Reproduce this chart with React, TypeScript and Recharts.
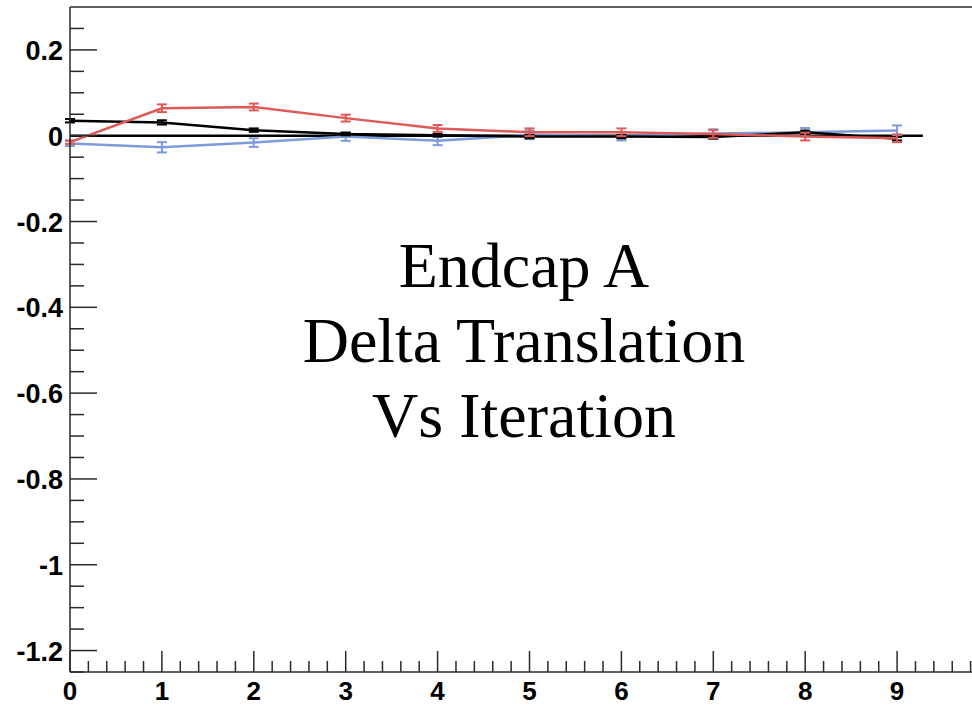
import { LineChart, Line, XAxis, YAxis, ErrorBar, ReferenceLine } from "recharts";

// iteration number on the x axis
const iterations = [0, 1, 2, 3, 4, 5, 6, 7, 8, 9];

// per-iteration translation deltas, three series
const blackDelta = [0.035, 0.031, 0.013, 0.004, 0.001, -0.002, -0.002, -0.003, 0.008, -0.007];
const blackErr = [0.004, 0.005, 0.004, 0.003, 0.003, 0.004, 0.004, 0.004, 0.004, 0.004];
const redDelta = [-0.015, 0.064, 0.067, 0.041, 0.017, 0.008, 0.008, 0.004, -0.002, -0.006];
const redErr = [0.004, 0.009, 0.008, 0.008, 0.008, 0.009, 0.009, 0.009, 0.009, 0.009];
const blueDelta = [-0.018, -0.027, -0.016, -0.002, -0.012, 0.002, -0.001, 0.005, 0.008, 0.012];
const blueErr = [0.006, 0.012, 0.01, 0.01, 0.01, 0.01, 0.01, 0.01, 0.01, 0.012];

const xMajor = [0, 1, 2, 3, 4, 5, 6, 7, 8, 9];
const yMajor = [-1.2, -1, -0.8, -0.6, -0.4, -0.2, 0, 0.2];
const titleLines = ["Endcap A", "Delta Translation", "Vs Iteration"];

const X_MAX = 9.815;
const Y_MIN = -1.25;
const Y_MAX = 0.3;

// minor ticks: 5 divisions on x, 4 on y
const xTicks: number[] = [];
for (let i = 0; i <= 49; i++) xTicks.push(Math.round(i * 20) / 100);
const yTicks: number[] = [];
for (let i = 0; i <= 30; i++) yTicks.push(Math.round((Y_MIN + i * 0.05) * 100) / 100);

const data = iterations.map((it, i) => ({
  iteration: it,
  black: blackDelta[i],
  blackErr: blackErr[i],
  red: redDelta[i],
  redErr: redErr[i],
  blue: blueDelta[i],
  blueErr: blueErr[i],
}));

const RED = "#dc5a58";
const BLUE = "#7d9bdb";
const AXIS = "#2a2a2a";
const FONT = "'Liberation Sans', Arial, sans-serif";

const isMajor = (v: number, list: number[]) => list.some((m) => Math.abs(m - v) < 1e-6);

const fmt = (v: number) => {
  if (Math.abs(v) < 1e-9) return "0";
  return String(Math.round(v * 10) / 10);
};

function XTick({ x, y, payload }: any) {
  const major = isMajor(payload.value, xMajor);
  return (
    <g>
      <line x1={x} x2={x} y1={y} y2={y - (major ? 21 : 11)} stroke={AXIS} strokeWidth={1.5} />
      {major && (
        <text x={x} y={y + 28} textAnchor="middle" fontFamily={FONT} fontWeight="bold" fontSize={26} fill="#000">
          {payload.value}
        </text>
      )}
    </g>
  );
}

function YTick({ x, y, payload }: any) {
  const major = isMajor(payload.value, yMajor);
  return (
    <g>
      <line x1={x} x2={x + (major ? 27 : 14)} y1={y} y2={y} stroke={AXIS} strokeWidth={1.5} />
      {major && (
        <text x={x - 7} y={y + 10} textAnchor="end" fontFamily={FONT} fontWeight="bold" fontSize={27} fill="#000">
          {fmt(payload.value)}
        </text>
      )}
    </g>
  );
}

export default function App() {
  return (
    <div style={{ position: "absolute", left: 0, top: 0, width: 972, height: 706, background: "#fff", overflow: "hidden" }}>
      <LineChart width={972} height={706} data={data} margin={{ top: 7, right: 0, left: 0, bottom: 0 }}>
        <XAxis
          type="number"
          dataKey="iteration"
          domain={[0, X_MAX]}
          ticks={xTicks}
          interval={0}
          tickSize={0}
          tickMargin={0}
          height={34}
          allowDataOverflow
          stroke={AXIS}
          strokeWidth={1.5}
          tick={<XTick />}
        />
        <YAxis
          type="number"
          domain={[Y_MIN, Y_MAX]}
          ticks={yTicks}
          interval={0}
          tickSize={0}
          tickMargin={0}
          width={70}
          allowDataOverflow
          stroke={AXIS}
          strokeWidth={1.5}
          tick={<YTick />}
        />
        <ReferenceLine y={Y_MAX} stroke={AXIS} strokeWidth={1.5} />
        <ReferenceLine
          segment={[
            { x: 0, y: 0 },
            { x: 9.28, y: 0 },
          ]}
          stroke="#000"
          strokeWidth={2.5}
        />
        <Line type="linear" dataKey="blue" stroke={BLUE} strokeWidth={2.5} dot={false} isAnimationActive={false}>
          <ErrorBar dataKey="blueErr" width={5} stroke={BLUE} strokeWidth={2} direction="y" isAnimationActive={false} />
        </Line>
        <Line type="linear" dataKey="black" stroke="#000" strokeWidth={2.5} dot={false} isAnimationActive={false}>
          <ErrorBar dataKey="blackErr" width={5} stroke="#000" strokeWidth={2} direction="y" isAnimationActive={false} />
        </Line>
        <Line type="linear" dataKey="red" stroke={RED} strokeWidth={2.5} dot={false} isAnimationActive={false}>
          <ErrorBar dataKey="redErr" width={5} stroke={RED} strokeWidth={2} direction="y" isAnimationActive={false} />
        </Line>
      </LineChart>
      <svg width={972} height={706} style={{ position: "absolute", left: 0, top: 0, pointerEvents: "none" }}>
        {titleLines.map((line, i) => (
          <text
            key={line}
            x={524}
            y={287 + i * 75}
            textAnchor="middle"
            fontFamily="'Liberation Serif', 'Times New Roman', serif"
            fontSize={64}
            fill="#000"
          >
            {line}
          </text>
        ))}
      </svg>
    </div>
  );
}
